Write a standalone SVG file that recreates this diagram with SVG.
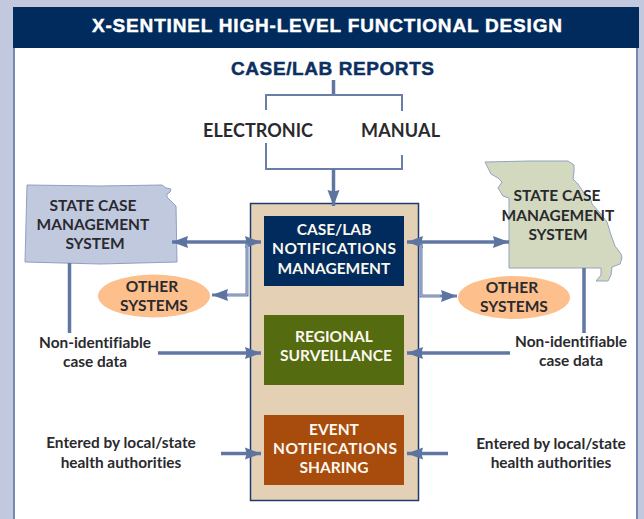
<svg xmlns="http://www.w3.org/2000/svg" width="644" height="519" viewBox="0 0 644 519">
<style>
.t{font-family:"Lato","Open Sans","Liberation Sans",sans-serif;font-weight:700;text-anchor:middle;fill:#2a2a2e;font-variant-ligatures:none}
.w{fill:#fbf8ef}
.s{font-size:15.5px}.m{font-size:15.4px}
.h{font-family:"Liberation Sans",Arial,sans-serif;font-weight:700;text-anchor:middle;stroke-width:.45px}
.l{fill:none;stroke:#6a7ea9;stroke-width:2}
.b{fill:none;stroke:#6077a3;stroke-width:3.5}
.d{fill:none;stroke:#6a7ea9;stroke-width:3}
.i{fill:none;stroke:#b4c0d9;stroke-width:1}
</style>
<defs>
<marker id="ah" markerUnits="userSpaceOnUse" markerWidth="17" markerHeight="14" refX="16" refY="7" orient="auto-start-reverse" viewBox="0 0 17 14">
<path d="M0 1L16 7L0 13L1.5 7Z" fill="#5d74a1"/>
</marker>
</defs>
<rect width="644" height="519" fill="#c2c9de"/>
<rect x="14" y="40" width="623" height="481" fill="#fff" stroke="#7689b0" stroke-width="2"/>
<g id="header">
<rect x="13" y="7" width="626" height="41" fill="#002b5c"/>
<text x="327" y="32" class="h" fill="#fff" stroke="#fff" font-size="19" textLength="470" lengthAdjust="spacing">X-SENTINEL HIGH-LEVEL FUNCTIONAL DESIGN</text>
</g>
<g id="reports"><text x="332.5" y="75" class="h" fill="#0c305f" stroke="#0c305f" font-size="19" textLength="203" lengthAdjust="spacing">CASE/LAB REPORTS</text></g>
<g id="electronic"><text x="258" y="137" class="t" font-size="18" textLength="110" lengthAdjust="spacing">ELECTRONIC</text></g>
<g id="manual"><text x="400.5" y="137" class="t" font-size="18" textLength="79" lengthAdjust="spacing">MANUAL</text></g>
<g id="central"><rect x="250.5" y="203.5" width="168" height="297" fill="#e3d0b5" stroke="#1d3c6b" stroke-width="1.5"/></g>
<g id="case-lab">
<rect x="264" y="216" width="140" height="70" fill="#002b5c"/>
<text x="334" y="235" class="t w s">CASE/LAB</text>
<text x="334" y="254" class="t w s" textLength="124" lengthAdjust="spacing">NOTIFICATIONS</text>
<text x="334" y="274" class="t w s">MANAGEMENT</text>
</g>
<g id="regional">
<rect x="264" y="315" width="140" height="70" fill="#556b10"/>
<text x="334" y="342" class="t w s">REGIONAL</text>
<text x="336" y="361" class="t w s">SURVEILLANCE</text>
</g>
<g id="event">
<rect x="264" y="415" width="140" height="70" fill="#a84c0e"/>
<text x="334" y="435" class="t w s">EVENT</text>
<text x="335" y="454" class="t w s" textLength="124" lengthAdjust="spacing">NOTIFICATIONS</text>
<text x="334" y="473" class="t w s">SHARING</text>
</g>
<g id="kansas">
<path d="M27 185L100 186L162 185L166 188L171 189L170 192L167 194L167 197L171 201L176 206L177 262L100 264L25 262Z" fill="#c0c9de" stroke="#8fa0c2" stroke-width="1"/>
<text x="93" y="211" class="t s">STATE CASE</text>
<text x="93" y="230" class="t s">MANAGEMENT</text>
<text x="95" y="249" class="t s">SYSTEM</text>
</g>
<g id="missouri">
<path d="M485 162L530 161L568 161L574 165L574 172L573 179L578 184L584 193L590 197L592 204L600 213L607 222L611 235L615 246L621 254L622 258L620 264L612 267L611 275L608 281L596 281L601 275L601 268L509 268L509 198L503 196L498 188L502 182L498 178L491 174Z" fill="#d3d9bf" stroke="#93a3c2" stroke-width="1"/>
<text x="557" y="201" class="t s">STATE CASE</text>
<text x="558" y="221" class="t s">MANAGEMENT</text>
<text x="558" y="240" class="t s">SYSTEM</text>
</g>
<g id="other-left">
<ellipse cx="154" cy="296" rx="56" ry="21.5" fill="#fdbf8c"/>
<text x="152" y="292" class="t s">OTHER</text>
<text x="154" y="311" class="t s">SYSTEMS</text>
</g>
<g id="other-right">
<ellipse cx="514" cy="297.5" rx="56" ry="21.5" fill="#fdbf8c"/>
<text x="512" y="293" class="t s">OTHER</text>
<text x="514" y="312" class="t s">SYSTEMS</text>
</g>
<g id="nonid-left"><text x="95" y="348" class="t m">Non-identifiable</text><text x="95" y="367" class="t m">case data</text></g>
<g id="nonid-right"><text x="571" y="347" class="t m">Non-identifiable</text><text x="571" y="366" class="t m">case data</text></g>
<g id="entered-left"><text x="121" y="448" class="t m">Entered by local/state</text><text x="121" y="468" class="t m">health authorities</text></g>
<g id="entered-right"><text x="551" y="449" class="t m">Entered by local/state</text><text x="551" y="468" class="t m">health authorities</text></g>
<g id="connectors">
<path class="b" d="M333.5 80V95"/>
<path class="l" d="M266 110V95H402V111"/>
<path class="l" d="M266 143V169H402V155"/>
<path class="b" d="M333.5 169V206" marker-end="url(#ah)"/>
<path class="b" d="M172 242H261" marker-start="url(#ah)" marker-end="url(#ah)"/>
<path class="b" d="M407 242H509" marker-start="url(#ah)" marker-end="url(#ah)"/>
<path class="d" d="M247 243V295H212" marker-end="url(#ah)"/>
<path class="i" d="M247 245V295H228"/>
<path class="d" d="M421 243V296H457" marker-end="url(#ah)"/>
<path class="i" d="M421 245V296H440"/>
<path class="b" d="M69.5 263V333"/>
<path class="b" d="M584 268V333"/>
<path class="b" d="M158 353H261" marker-end="url(#ah)"/>
<path class="b" d="M510 353H407" marker-end="url(#ah)"/>
<path class="b" d="M221 453.5H261" marker-end="url(#ah)"/>
<path class="b" d="M448 453.5H407" marker-end="url(#ah)"/>
</g>
</svg>
